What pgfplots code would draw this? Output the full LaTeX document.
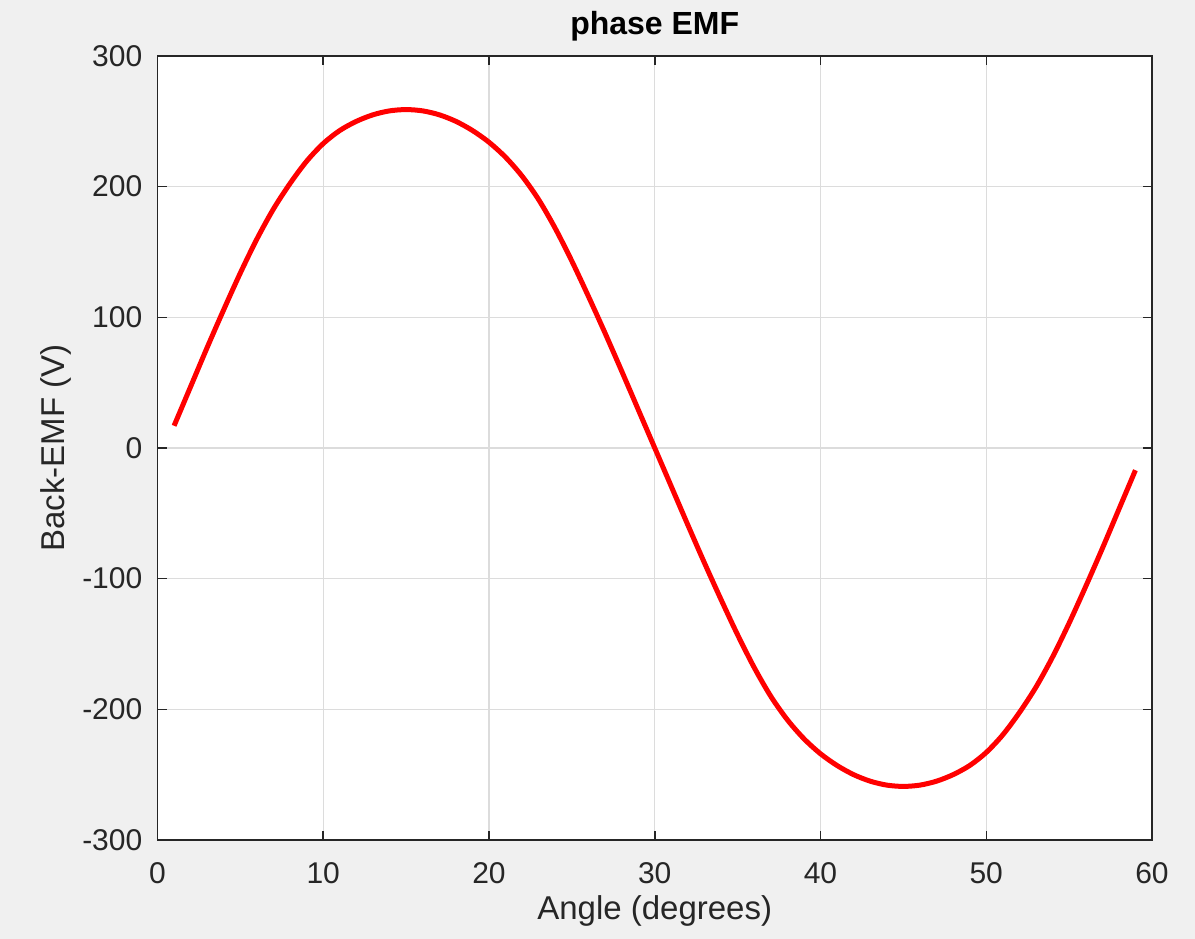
\documentclass[border=0pt]{standalone}
\usepackage{pgfplots}
\pgfplotsset{compat=1.18}
\usepackage{fontspec}
\setmainfont{Liberation Sans}
\definecolor{bg}{HTML}{F0F0F0}
\definecolor{axc}{HTML}{262626}
\definecolor{gridc}{HTML}{DCDCDC}
\begin{document}
\begin{tikzpicture}
\fill[bg] (0,0) rectangle (1195pt,939pt);
\begin{axis}[
  at={(157.5pt,99pt)}, anchor=south west,
  width=994.5pt, height=784pt, scale only axis,
  xmin=0, xmax=60, ymin=-300, ymax=300,
  axis background/.style={fill=white},
  xtick={0,10,...,60}, xticklabels={0,10,20,30,40,50,60},
  ytick={-300,-200,...,300}, yticklabels={-300,-200,-100,0,100,200,300},
  grid=major,
  major grid style={gridc, line width=1.2pt},
  axis line style={axc, line width=1.5pt},
  tick style={axc, line width=1.5pt},
  major tick length=9pt,
  tick align=inside,
  ticklabel style={font=\fontsize{30}{30}\selectfont, text=axc, inner sep=0pt},
  xticklabel style={anchor=north, yshift=-22pt},
  yticklabel style={anchor=east, xshift=-15pt},
  title={phase EMF},
  title style={font=\fontsize{32}{32}\selectfont\bfseries, at={(axis description cs:0.5,1)}, anchor=base, yshift=15pt, inner sep=0pt},
  xlabel={Angle (degrees)},
  xlabel style={font=\fontsize{33}{33}\selectfont, text=axc, at={([yshift=-80pt]axis description cs:0.5,0)}, anchor=base, inner sep=0pt},
  ylabel={Back-EMF (V)},
  ylabel style={font=\fontsize{33}{33}\selectfont, text=axc, at={([xshift=-92.5pt]axis description cs:0,0.5)}, anchor=base, inner sep=0pt},
]
\addplot[red, line width=5pt, line join=round, smooth] coordinates {
(1,17) (2,47) (3,77) (4,106) (5,134) (6,160) (7,183) (8,202.5) (9,219.5) (10,233)
(11,243) (12,250) (13,255) (14,258) (15,259) (16,258) (17,255) (18,250) (19,243) (20,234)
(21,222.5) (22,208) (23,190) (24,168) (25,143) (26,116) (27,88) (28,59) (29,29.5) (30,0)
(31,-29.5) (32,-59) (33,-88) (34,-116) (35,-143) (36,-168) (37,-190) (38,-208) (39,-222.5) (40,-234)
(41,-243) (42,-250) (43,-255) (44,-258) (45,-259) (46,-258) (47,-255) (48,-250) (49,-243) (50,-233)
(51,-219.5) (52,-202.5) (53,-183) (54,-160) (55,-134) (56,-106) (57,-77) (58,-47) (59,-17)
};
\end{axis}
\end{tikzpicture}
\end{document}
